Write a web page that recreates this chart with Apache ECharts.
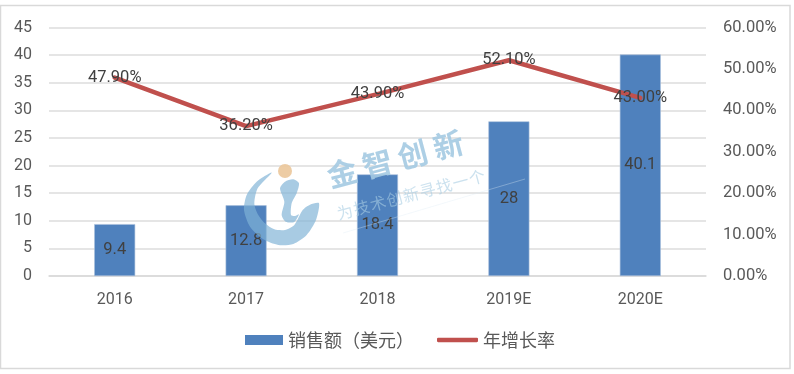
<!DOCTYPE html>
<html><head><meta charset="utf-8">
<style>html,body{margin:0;padding:0;background:#fff}#c{width:794px;height:374px}</style>
<script src="https://cdn.jsdelivr.net/npm/echarts@6/dist/echarts.min.js"></script>
</head><body><div id="c"></div>
<script>
const categories = ['2016','2017','2018','2019E','2020E'];
const sales = [9.4,12.8,18.4,28,40.1];
const growth = [47.9,36.2,43.9,52.1,43.0];
const barName = '销售额（美元）';
const lineName = '年增长率';
const wmTitle = '金智创新';
const wmSub = '为技术创新寻找一个';
const FONT = 'Roboto, "Noto Sans CJK SC", sans-serif';
const CJK = '"Noto Sans CJK SC", sans-serif';
const chart = echarts.init(document.getElementById('c'));
const gl = {show:true,lineStyle:{color:'#DCDCDC',width:1.5}};
const lg = p => p.map(q => [235+q[0]/3, 120+q[1]/3]);
const crescent = lg([[110,158],[65,185],[35,225],[27,270],[45,320],[85,358],[130,375],[175,372],[215,345],[243,300],[252,250],[225,254],[203,270],[178,315],[150,330],[118,328],[90,310],[68,282],[58,250],[68,205]]);
const iBody = lg([[135,205],[150,185],[175,178],[192,190],[185,220],[170,250],[168,285],[180,288],[192,283],[178,306],[152,305],[140,285],[148,245]]);
const spread = (s,x0,y0,x1,y1,font,fill,opacity) => [...s].map((ch,i)=>({
  type:'text',silent:true,z:100,
  x:x0+(x1-x0)*i/(s.length-1), y:y0+(y1-y0)*i/(s.length-1),
  rotation:Math.atan2(y0-y1,x1-x0),
  style:{text:ch,font,fill,opacity,align:'center',verticalAlign:'middle'}
}));
chart.setOption({
  animation:false, backgroundColor:'#fff',
  grid:{left:49,right:88,top:27.5,height:248.5},
  legend:[
    {data:[barName],left:240,top:326,itemWidth:38,itemHeight:10,icon:'rect',itemStyle:{borderWidth:0},textStyle:{fontFamily:CJK,fontSize:18,color:'#595959'}},
    {data:[lineName],left:432,top:326,itemWidth:41,itemHeight:4.5,icon:'roundRect',textStyle:{fontFamily:CJK,fontSize:18,color:'#595959'}}
  ],
  xAxis:{type:'category',data:categories,axisTick:{show:false},
    axisLine:{lineStyle:{color:'#D9D9D9',width:1.5}},
    axisLabel:{fontFamily:FONT,fontSize:16,color:'#595959',margin:16}},
  yAxis:[
    {type:'value',min:0,max:45,interval:5,splitLine:gl,axisLine:{show:false},axisTick:{show:false},
     axisLabel:{fontFamily:FONT,fontSize:16,color:'#595959',margin:17}},
    {type:'value',min:0,max:60,interval:10,splitLine:{show:false},axisLine:{show:false},axisTick:{show:false},
     axisLabel:{fontFamily:FONT,fontSize:16.5,color:'#595959',margin:17,formatter:v=>v.toFixed(2)+'%'}}
  ],
  series:[
    {name:barName,type:'bar',data:sales,barWidth:41,itemStyle:{color:'#4F81BD',borderColor:'#A9C0DC',borderWidth:0.6},
     label:{show:true,position:'inside',fontFamily:FONT,fontSize:16.5,color:'#404040'}},
    {name:lineName,type:'line',yAxisIndex:1,data:growth,symbol:'circle',symbolSize:1,z:3,
     lineStyle:{color:'#C0504D',width:4.5,cap:'round',join:'round'},itemStyle:{color:'#C0504D'},
     label:{show:true,position:'inside',fontFamily:FONT,fontSize:16.5,color:'#404040',formatter:p=>p.value.toFixed(2)+'%'},
     labelLayout:{hideOverlap:false}}
  ],
  graphic:[
    {type:'rect',silent:true,z:0,shape:{x:0.5,y:5.5,width:789.5,height:363},style:{fill:'none',stroke:'#D9D9D9',lineWidth:1.5}},
    ...spread(wmTitle,342,173,448,145,'bold 30px '+CJK,'#A4CAE2',.9),
    ...spread(wmSub,345,212,477,177,'16px '+CJK,'#A8CDE3',.6),
    {type:'line',silent:true,z:100,shape:{x1:343,y1:233,x2:525,y2:179},style:{stroke:'#DCEAF3',lineWidth:1,opacity:.35}},
    {type:'polygon',silent:true,z:100,shape:{points:crescent,smooth:0.25},style:{fill:'#7FB3D5',opacity:.68}},
    {type:'polygon',silent:true,z:100,shape:{points:iBody,smooth:0.25},style:{fill:'#7FB3D5',opacity:.68}},
    {type:'circle',silent:true,z:100,shape:{cx:285,cy:171,r:7},style:{fill:'#EBC79A',opacity:.9}}
  ]
});
</script></body></html>
